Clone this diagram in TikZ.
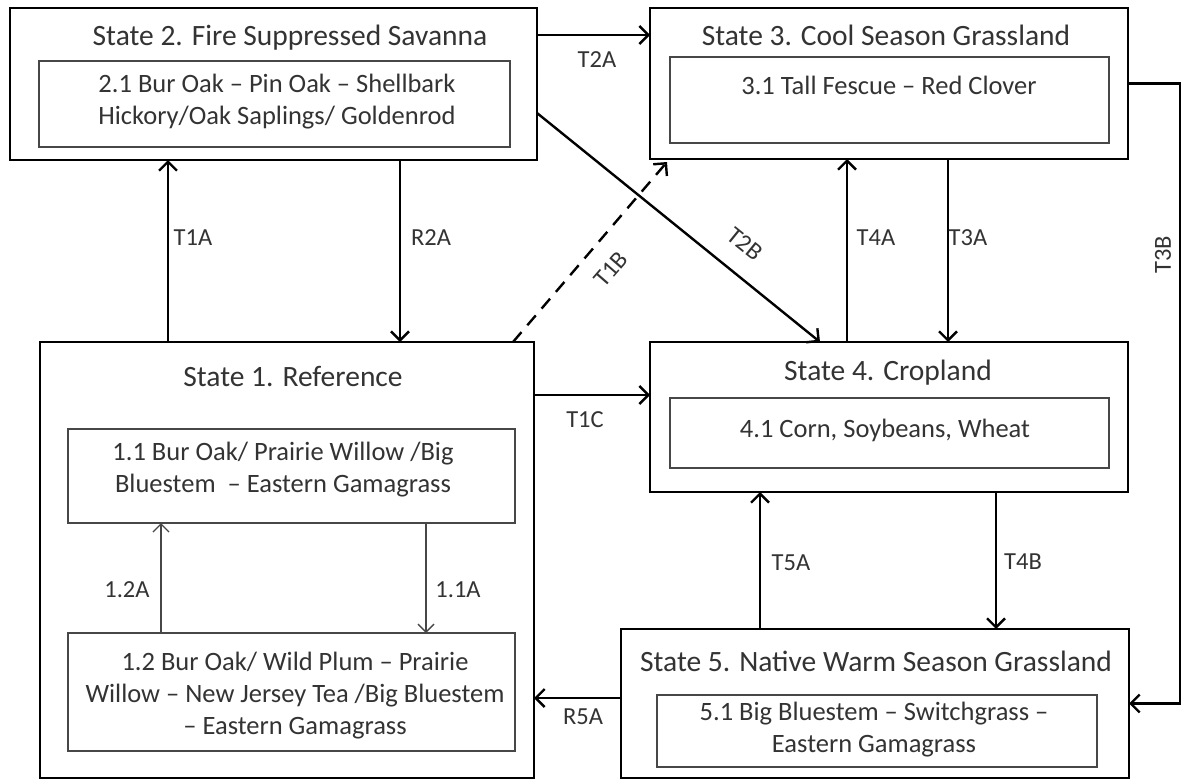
\documentclass[tikz,border=0pt]{standalone}
\usepackage{fontspec}
\setmainfont{Carlito}
\usetikzlibrary{arrows.meta}
\definecolor{txt}{HTML}{333333}
\definecolor{innerline}{HTML}{474747}
\begin{document}
\begin{tikzpicture}[x=1pt,y=-1pt,
  outerbox/.style={draw=black, line width=2.8pt, inner sep=0pt, outer sep=0pt},
  innerbox/.style={draw=innerline, line width=1.8pt, inner sep=0pt, outer sep=0pt},
  titletext/.style={text=txt, font=\fontsize{29.5}{34}\selectfont, inner sep=0pt},
  bodytext/.style={text=txt, font=\fontsize{26.5}{32}\selectfont, align=center, inner sep=0pt},
  lbl/.style={text=txt, font=\fontsize{24.5}{28}\selectfont, inner sep=0pt},
  arr/.style={draw=black, line width=2.4pt, -{Straight Barb[length=9pt,width=18pt]}},
  thinarr/.style={draw=innerline, line width=1.4pt, -{Straight Barb[length=8pt,width=16pt]}}
]
\useasboundingbox[fill=white] (0,0) rectangle (1182,780);

% outer state boxes
\node[outerbox, minimum width=527pt, minimum height=152pt] (s2) at (273.5,84) {};
\node[outerbox, minimum width=478pt, minimum height=151pt] (s3) at (889,83.5) {};
\node[outerbox, minimum width=494pt, minimum height=436pt] (s1) at (287,560) {};
\node[outerbox, minimum width=478pt, minimum height=150pt] (s4) at (889,417) {};
\node[outerbox, minimum width=508pt, minimum height=149pt] (s5) at (875,703.5) {};

% titles
\node[titletext] (t2) at (290,38) {State 2. Fire Suppressed Savanna};
\node[titletext] (t3) at (886,35) {State 3. Cool Season Grassland};
\node[titletext] (t1) at (293,376) {State 1. Reference};
\node[titletext] (t4) at (888,373) {State 4. Cropland};
\node[titletext] (t5) at (876,661) {State 5. Native Warm Season Grassland};

% inner community boxes
\node[innerbox, minimum width=471pt, minimum height=86pt] (i2) at (274.5,104) {};
\node[innerbox, minimum width=439pt, minimum height=86pt] (i3) at (889.5,100) {};
\node[innerbox, minimum width=447pt, minimum height=94pt] (i11) at (291.5,476) {};
\node[innerbox, minimum width=447pt, minimum height=118pt] (i12) at (291.5,692) {};
\node[innerbox, minimum width=439pt, minimum height=70pt] (i4) at (889.5,433) {};
\node[innerbox, minimum width=440pt, minimum height=72pt] (i5) at (877,731) {};

% inner texts
\node[bodytext] (x2) at (277,102) {2.1 Bur Oak -- Pin Oak -- Shellbark\\Hickory/Oak Saplings/ Goldenrod};
\node[bodytext] (x3) at (889,85) {3.1 Tall Fescue -- Red Clover};
\node[bodytext] (x11) at (283,470) {1.1 Bur Oak/ Prairie Willow /Big\\Bluestem \ -- Eastern Gamagrass};
\node[bodytext] (x12) at (295,696) {1.2 Bur Oak/ Wild Plum -- Prairie\\Willow -- New Jersey Tea /Big Bluestem\\-- Eastern Gamagrass};
\node[bodytext] (x4) at (885,430) {4.1 Corn, Soybeans, Wheat};
\node[bodytext] (x5) at (874,730) {5.1 Big Bluestem -- Switchgrass --\\Eastern Gamagrass};

% connectors
\draw[arr] ([xshift=128pt]s1.north west) -- ([xshift=158pt]s2.south west);
\draw[arr] ([xshift=390pt]s2.south west) -- ([xshift=360pt]s1.north west);
\draw[arr, dash pattern=on 13pt off 9pt] ([xshift=473pt]s1.north west) -- ([xshift=17pt,yshift=-3pt]s3.south west);
\draw[arr] ([yshift=-29pt]s2.east) -- ([xshift=170pt]s4.north west);
\draw[arr] ([yshift=49pt]s2.east) -- ([yshift=48.5pt]s3.west);
\draw[arr] ([xshift=197pt]s4.north west) -- ([xshift=197pt]s3.south west);
\draw[arr] ([xshift=298pt]s3.south west) -- ([xshift=298pt]s4.north west);
\draw[arr] ([yshift=165pt]s1.east) -- ([yshift=22pt]s4.west);
\draw[arr] ([xshift=139pt]s5.north west) -- ([xshift=110pt]s4.south west);
\draw[arr] ([xshift=346pt]s4.south west) -- ([xshift=375pt]s5.north west);
\draw[arr] ([yshift=5.5pt]s5.west) -- ([yshift=-138pt]s1.east);
\coordinate (c3b) at (1180,83);
\draw[arr] (s3.east) -- (s3.east -| c3b) |- (s5.east);
\draw[thinarr] ([xshift=93pt]i12.north west) -- ([xshift=93pt]i11.south west);
\draw[thinarr] ([xshift=358pt]i11.south west) -- ([xshift=358pt]i12.north west);

% labels
\node[lbl] (lt1a) at (193,238) {T1A};
\node[lbl] (lr2a) at (431,238) {R2A};
\node[lbl, rotate=49] (lt1b) at (611,269) {T1B};
\node[lbl, rotate=-39] (lt2b) at (745,244) {T2B};
\node[lbl] (lt2a) at (597,60) {T2A};
\node[lbl] (lt4a) at (876,238) {T4A};
\node[lbl] (lt3a) at (968,238) {T3A};
\node[lbl, rotate=90] (lt3b) at (1163,255) {T3B};
\node[lbl] (lt1c) at (585,420) {T1C};
\node[lbl] (lt5a) at (791,563) {T5A};
\node[lbl] (lt4b) at (1023,562) {T4B};
\node[lbl] (lr5a) at (583,717) {R5A};
\node[lbl] (l12a) at (127,590) {1.2A};
\node[lbl] (l11a) at (458,590) {1.1A};
\end{tikzpicture}
\end{document}
